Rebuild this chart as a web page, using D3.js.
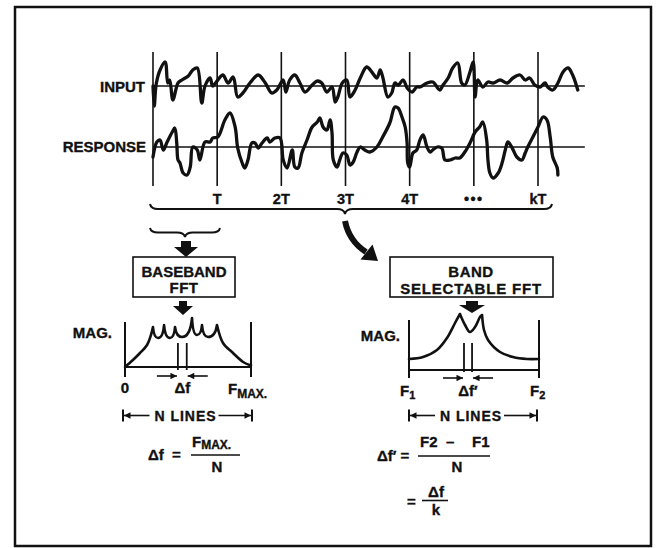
<!DOCTYPE html>
<html>
<head>
<meta charset="utf-8">
<script src="https://cdn.jsdelivr.net/npm/d3@7"></script>
<style>
  html, body { margin: 0; padding: 0; background: #fff; }
  svg { display: block; }
  text { font-family: "Liberation Sans", Arial, Helvetica, sans-serif; font-weight: bold;
         fill: #111; stroke: #111; stroke-width: 0.35px; }
</style>
</head>
<body>
<svg id="fig" width="657" height="548"></svg>
<script>
// Time is measured in hundredths of one record length T.
const periodIndex = [1, 2, 3, 4, 5, 6];
const periodLabels = ["T", "2T", "3T", "4T", "\u2022\u2022\u2022", "kT"];

// Excitation signal [time, amplitude]
const inputSignal = [
  [0,0],[2,-8],[5,0.8],[11,6.4],[19,9.6],[23,1.2],[26,2.4],[31,-5.6],[39,1.2],[45,2.4],
  [55,4],[62,6.4],[69,7.2],[76,-6.8],[81,0],[89,3.2],[93,0],[101,2.4],[109,4.4],[117,1.2],
  [125,3.6],[132,-4.4],[140,-2.8],[151,1.2],[164,4.4],[175,1.2],[185,-2.8],[193,-1.6],[203,2.4],
  [207,-2.4],[213,2.4],[221,4.4],[229,1.2],[237,-2.4],[248,0.4],[256,2],[263,1.2],[271,-2.4],
  [279,-0.4],[284,-6.4],[288,-4.4],[295,1.2],[302,2.4],[307,-4.4],[315,-1.6],[323,3.2],[333,7.6],
  [341,5.6],[349,3.2],[354,6.4],[358,3.6],[366,-4.4],[372,-2.8],[377,1.2],[382,0.4],[390,2.4],
  [396,-0.8],[404,-2.4],[411,-0.4],[416,-0.4],[427,1.2],[436,1.6],[447,-1.6],[452,0.4],[460,3.2],
  [467,7.2],[475,9.2],[481,1.2],[486,0.4],[494,5.6],[499,9.6],[502,-4.4],[506,2.4],[514,-0.4],
  [522,1.6],[530,1.2],[541,2.4],[552,1.2],[561,3.2],[572,4.4],[580,2.4],[587,3.2],[595,0.4],
  [603,-0.4],[611,1.2],[615,-0.4],[623,-1.6],[631,1.2],[639,5.6],[647,7.2],[654,4.4],[662,-1.6]
];

// Structure response [time, amplitude]
const responseSignal = [
  [0,-4],[6,2],[11,2.8],[16,-1.2],[22,2],[30,6],[34,7.6],[37,1.6],[39,-5.2],[42,-6.4],
  [47,-10.4],[53,-11.2],[58,-8],[62,0],[69,-1.2],[73,-5.2],[81,2],[89,2],[93,3.6],[101,4],
  [112,10.8],[120,13.6],[128,8],[132,-0.4],[139,-6.4],[143,-8.4],[148,-5.2],[154,1.6],[159,1.6],
  [164,-0.4],[170,1.6],[178,3.6],[182,2],[190,3.6],[198,3.6],[203,-5.2],[209,-8.4],[217,-1.2],
  [221,-8],[226,-8.4],[232,-2.4],[240,2.8],[248,8],[256,10],[260,11.6],[265,8],[271,6.8],
  [276,10.8],[279,5.6],[281,-5.2],[287,-8],[291,-5.2],[296,-2.4],[302,-3.2],[307,-7.2],[312,-6],
  [318,-2],[323,0],[330,-1.2],[338,-2],[349,0],[358,4],[369,9.6],[377,16],[382,15.6],[388,12],
  [393,8],[396,1.6],[397,-6.4],[400,-8],[405,-2.4],[411,-1.2],[416,2.8],[421,4.8],[427,0],
  [432,-2],[436,-1.2],[443,0],[450,-0.4],[455,-5.2],[463,-5.2],[471,-4.4],[478,-4.4],[486,-2],
  [494,1.6],[502,6],[509,8],[514,10],[520,2.8],[522,-5.2],[525,-10.4],[530,-12.4],[538,-10.4],
  [544,-6.4],[549,-1.2],[553,2],[559,0],[567,-4],[575,-5.2],[580,-2.4],[584,0],[592,4],
  [600,8],[608,12],[614,10.8],[619,4],[623,-4],[630,-8.4],[631,-11.2]
];

// Baseband spectrum, frequency as % of FMAX [freq, magnitude]
const basebandSpectrum = [
  [0,0],[6.3,1.4],[11.9,2.8],[17.5,4.4],[20.6,6.4],[22.2,8.0],[26.2,5.8],[31,8.4],[35.7,5.8],
  [39.7,8.0],[45.2,6.0],[53.2,9.8],[57.1,6.4],[61.1,8.4],[65.9,6.0],[73,8.4],[77.8,4.8],
  [85.7,2.8],[93.7,1.0],[100,0.3]
];
// Zoomed spectrum, frequency as % of span F1..F2 [freq, magnitude]
const zoomSpectrum = [
  [0,2.2],[10.8,2.6],[21.5,4.0],[29.2,6.4],[35.4,9.4],[39.2,11.2],[43.1,9.0],[46.9,7.6],
  [50.8,8.6],[54.6,10.6],[56.2,11.0],[57.7,8.0],[60.8,6.0],[70,3.6],[80,2.6],[90.8,2.2],[100,2.2]
];
// Adjacent analysis lines, bracketing the resolution
const basebandLines = [42, 49];
const zoomLines = [42.3, 48.5];

const svg = d3.select("#fig");
const ink = "#111";

// outer frame
svg.append("rect").attr("x", 15).attr("y", 7).attr("width", 636).attr("height", 539)
  .attr("fill", "none").attr("stroke", ink).attr("stroke-width", 2.5);

// arrowhead marker for thin dimension arrows
const defs = svg.append("defs");
defs.append("marker").attr("id", "head").attr("viewBox", "0 0 10 10")
  .attr("refX", 10).attr("refY", 5).attr("markerWidth", 10).attr("markerHeight", 6.5)
  .attr("markerUnits", "userSpaceOnUse").attr("orient", "auto")
  .append("path").attr("d", "M0,0 L10,5 L0,10 Z").attr("fill", ink);

// ---------- time records ----------
const xT = d3.scaleLinear().domain([0, 600]).range([153, 538]);
const yIn = d3.scaleLinear().domain([-10, 10]).range([111, 61]);
const yResp = d3.scaleLinear().domain([-10, 10]).range([172, 122]);
const tEnd = 673;

const grid = svg.append("g").attr("stroke", ink).attr("stroke-width", 1.6);
grid.selectAll("line.v").data([0].concat(periodIndex)).join("line")
  .attr("x1", d => xT(d * 100)).attr("x2", d => xT(d * 100))
  .attr("y1", 52).attr("y2", 186);
grid.append("line").attr("x1", xT(0)).attr("x2", xT(tEnd)).attr("y1", yIn(0)).attr("y2", yIn(0));
grid.append("line").attr("x1", xT(0)).attr("x2", xT(tEnd)).attr("y1", yResp(0)).attr("y2", yResp(0));

const lineIn = d3.line().x(d => xT(d[0])).y(d => yIn(d[1])).curve(d3.curveCatmullRom.alpha(0.5));
const lineResp = d3.line().x(d => xT(d[0])).y(d => yResp(d[1])).curve(d3.curveCatmullRom.alpha(0.5));
svg.append("path").attr("d", lineIn(inputSignal)).attr("fill", "none").attr("stroke", ink)
  .attr("stroke-width", 3.3).attr("stroke-linejoin", "round").attr("stroke-linecap", "round");
svg.append("path").attr("d", lineResp(responseSignal)).attr("fill", "none").attr("stroke", ink)
  .attr("stroke-width", 3.3).attr("stroke-linejoin", "round").attr("stroke-linecap", "round");

svg.append("text").attr("x", 145).attr("y", 92).attr("text-anchor", "end")
  .style("font-size", "15px").text("INPUT");
svg.append("text").attr("x", 146).attr("y", 152).attr("text-anchor", "end")
  .style("font-size", "15px").text("RESPONSE");

svg.append("g").selectAll("text").data(periodIndex).join("text")
  .attr("x", d => xT(d * 100)).attr("y", 204).attr("text-anchor", "middle")
  .style("font-size", "14.5px")
  .style("letter-spacing", (d, i) => i === 4 ? "1.5px" : "0px")
  .text((d, i) => periodLabels[i]);

// braces grouping the records
function underBrace(x1, x2, xm, y, h) {
  const q = h / 2;
  return `M${x1},${y} Q${x1 + 1},${y + q} ${x1 + 8},${y + q} L${xm - 8},${y + q} ` +
    `Q${xm - 1},${y + q} ${xm},${y + h} Q${xm + 1},${y + q} ${xm + 8},${y + q} ` +
    `L${x2 - 8},${y + q} Q${x2 - 1},${y + q} ${x2},${y}`;
}
svg.append("path").attr("d", underBrace(150, 552, 345, 204, 10))
  .attr("fill", "none").attr("stroke", ink).attr("stroke-width", 2);
svg.append("path").attr("d", underBrace(150, 220, 185, 228, 9))
  .attr("fill", "none").attr("stroke", ink).attr("stroke-width", 2);

// block arrows
function blockArrow(cx, y0, yNeck, yTip, shaftHalf, headHalf) {
  return `M${cx - shaftHalf},${y0} L${cx + shaftHalf},${y0} L${cx + shaftHalf},${yNeck} ` +
    `L${cx + headHalf},${yNeck} L${cx},${yTip} L${cx - headHalf},${yNeck} L${cx - shaftHalf},${yNeck} Z`;
}
svg.append("path").attr("d", blockArrow(186, 241, 247, 257, 5, 12)).attr("fill", ink);
svg.append("path").attr("d", blockArrow(183, 301, 306, 315, 4, 10)).attr("fill", ink);
svg.append("path").attr("d", blockArrow(472, 301, 305, 313, 6, 13)).attr("fill", ink);

// curved arrow towards the band selectable FFT
svg.append("path").attr("d", "M345,221 Q349,241 366,252")
  .attr("fill", "none").attr("stroke", ink).attr("stroke-width", 6).attr("stroke-linecap", "butt");
svg.append("path").attr("d", "M378,261 L360.5,259.5 L372.5,244.5 Z").attr("fill", ink);

// processing boxes
function box(x, y, w, h, lines, cx) {
  svg.append("rect").attr("x", x).attr("y", y).attr("width", w).attr("height", h)
    .attr("fill", "none").attr("stroke", ink).attr("stroke-width", 1.6);
  lines.forEach(l => svg.append("text").attr("x", cx).attr("y", l.y)
    .attr("text-anchor", "middle").style("font-size", "15px")
    .style("letter-spacing", l.ls || "0px").text(l.t));
}
box(133, 257, 102, 40, [{t: "BASEBAND", y: 277}, {t: "FFT", y: 293, ls: "0.5px"}], 184);
box(390, 257, 163, 40, [{t: "BAND", y: 277, ls: "0.5px"}, {t: "SELECTABLE FFT", y: 294, ls: "0.8px"}], 471);

// ---------- spectra ----------
// a peak-dip-peak run is drawn as a rounded trough between two sharp tips
function troughPath(p1, d, p2) {
  const dx1 = d[0] - p1[0], dy1 = d[1] - p1[1];
  const dx2 = p2[0] - d[0], dy2 = d[1] - p2[1];
  return `M${p1[0]},${p1[1]} C${p1[0] + 0.12 * dx1},${p1[1] + 0.65 * dy1} ${d[0] - 0.55 * dx1},${d[1]} ${d[0]},${d[1]} ` +
    `C${d[0] + 0.55 * dx2},${d[1]} ${p2[0] - 0.12 * dx2},${p2[1] + 0.65 * dy2} ${p2[0]},${p2[1]}`;
}

function spectrumPanel(data, lines, xs, ys, vTop, vBot, markerTop, markerBot) {
  const g = svg.append("g");
  g.selectAll("line.edge").data([0, 100]).join("line")
    .attr("x1", d => xs(d)).attr("x2", d => xs(d)).attr("y1", vTop).attr("y2", vBot)
    .attr("stroke", ink).attr("stroke-width", 2);
  g.append("line").attr("x1", xs(0)).attr("x2", xs(100)).attr("y1", ys(0)).attr("y2", ys(0))
    .attr("stroke", ink).attr("stroke-width", 2);
  // split at the local maxima so each spectral line ends in a sharp tip
  const segs = [];
  let cur = [data[0]];
  for (let i = 1; i < data.length; i++) {
    cur.push(data[i]);
    const isPeak = i < data.length - 1 && data[i][1] > data[i - 1][1] && data[i][1] > data[i + 1][1];
    if (isPeak) { segs.push(cur); cur = [data[i]]; }
  }
  segs.push(cur);
  const ln = d3.line().x(d => xs(d[0])).y(d => ys(d[1])).curve(d3.curveCatmullRom.alpha(0.5));
  const px = s => s.map(d => [xs(d[0]), ys(d[1])]);
  const d = segs.map(s => s.length === 3 ? troughPath(...px(s)) : ln(s)).join("");
  g.append("path").attr("d", d)
    .attr("fill", "none").attr("stroke", ink).attr("stroke-width", 2.6)
    .attr("stroke-linejoin", "miter").attr("stroke-linecap", "round");
  g.selectAll("line.res").data(lines).join("line")
    .attr("x1", v => xs(v)).attr("x2", v => xs(v)).attr("y1", markerTop).attr("y2", markerBot)
    .attr("stroke", ink).attr("stroke-width", 1.8);
  const ay = markerBot + 6;
  g.append("line").attr("x1", xs(lines[0]) - 21).attr("x2", xs(lines[0]) - 1)
    .attr("y1", ay).attr("y2", ay).attr("stroke", ink).attr("stroke-width", 1.6)
    .attr("marker-end", "url(#head)");
  g.append("line").attr("x1", xs(lines[1]) + 21).attr("x2", xs(lines[1]) + 1)
    .attr("y1", ay).attr("y2", ay).attr("stroke", ink).attr("stroke-width", 1.6)
    .attr("marker-end", "url(#head)");
  return g;
}

const xB = d3.scaleLinear().domain([0, 100]).range([125, 251]);
const yB = d3.scaleLinear().domain([0, 10]).range([367, 317]);
const xZ = d3.scaleLinear().domain([0, 100]).range([409, 539]);
const yZ = d3.scaleLinear().domain([0, 10]).range([370, 320]);

spectrumPanel(basebandSpectrum, basebandLines, xB, yB, 322, 377, 343, 370);
spectrumPanel(zoomSpectrum, zoomLines, xZ, yZ, 320, 378, 343, 372);

svg.append("text").attr("x", 112).attr("y", 338).attr("text-anchor", "end")
  .style("font-size", "15px").text("MAG.");
svg.append("text").attr("x", 400).attr("y", 341).attr("text-anchor", "end")
  .style("font-size", "15px").text("MAG.");

// frequency labels
svg.append("text").attr("x", xB(0)).attr("y", 393).attr("text-anchor", "middle")
  .style("font-size", "15px").text("0");
svg.append("text").attr("x", xB(45.5)).attr("y", 393).attr("text-anchor", "middle")
  .style("font-size", "15px").text("\u0394f");
const fmax = svg.append("text").attr("x", xB(100) - 23).attr("y", 394).style("font-size", "15px");
fmax.append("tspan").text("F");
fmax.append("tspan").attr("dy", 4).style("font-size", "12px").text("MAX.");

const f1 = svg.append("text").attr("x", xZ(0) - 9).attr("y", 396).style("font-size", "15px");
f1.append("tspan").text("F");
f1.append("tspan").attr("dy", 3).style("font-size", "11px").text("1");
svg.append("text").attr("x", xZ(45.4)).attr("y", 396).attr("text-anchor", "middle")
  .style("font-size", "15px").text("\u0394f\u2032");
const f2 = svg.append("text").attr("x", xZ(100) - 9).attr("y", 396).style("font-size", "15px");
f2.append("tspan").text("F");
f2.append("tspan").attr("dy", 3).style("font-size", "11px").text("2");

// N LINES spans
function nLines(x1, x2, y) {
  const g = svg.append("g").attr("stroke", ink).attr("stroke-width", 1.6);
  g.append("line").attr("x1", x1).attr("x2", x1).attr("y1", y - 6).attr("y2", y + 6).attr("stroke-width", 2);
  g.append("line").attr("x1", x2).attr("x2", x2).attr("y1", y - 6).attr("y2", y + 6).attr("stroke-width", 2);
  const cx = (x1 + x2) / 2;
  g.append("line").attr("x1", cx - 38).attr("x2", x1 + 1).attr("y1", y).attr("y2", y)
    .attr("marker-end", "url(#head)");
  g.append("line").attr("x1", cx + 31).attr("x2", x2 - 1).attr("y1", y).attr("y2", y)
    .attr("marker-end", "url(#head)");
  svg.append("text").attr("x", cx - 2).attr("y", y + 5).attr("text-anchor", "middle")
    .style("font-size", "14px").style("letter-spacing", "1px").text("N LINES");
}
nLines(xB(0) - 2, xB(100) + 1, 415.5);
nLines(xZ(0), xZ(100) - 2, 415.5);

// resolution formulas
function fracLine(x1, x2, y) {
  svg.append("line").attr("x1", x1).attr("x2", x2).attr("y1", y).attr("y2", y)
    .attr("stroke", ink).attr("stroke-width", 1.6);
}
svg.append("text").attr("x", 148).attr("y", 460).style("font-size", "15px")
  .style("white-space", "pre").text("\u0394f  =");
const num1 = svg.append("text").attr("x", 192).attr("y", 447).style("font-size", "15px");
num1.append("tspan").text("F");
num1.append("tspan").attr("dy", 2).style("font-size", "12px").text("MAX.");
fracLine(191, 240, 455);
svg.append("text").attr("x", 217).attr("y", 472).attr("text-anchor", "middle")
  .style("font-size", "15px").text("N");

svg.append("text").attr("x", 377).attr("y", 461).style("font-size", "15px")
  .style("white-space", "pre").text("\u0394f\u2032 =");
const num2 = svg.append("text").attr("y", 447).style("font-size", "15px");
num2.append("tspan").attr("x", 420).text("F2");
num2.append("tspan").attr("x", 446).text("\u2013");
num2.append("tspan").attr("x", 472).text("F1");
fracLine(418, 490, 456);
svg.append("text").attr("x", 457).attr("y", 472).attr("text-anchor", "middle")
  .style("font-size", "15px").text("N");

svg.append("text").attr("x", 407).attr("y", 507).style("font-size", "15px").text("=");
svg.append("text").attr("x", 436).attr("y", 497).attr("text-anchor", "middle")
  .style("font-size", "15px").text("\u0394f");
fracLine(422, 448, 500.5);
svg.append("text").attr("x", 436).attr("y", 515).attr("text-anchor", "middle")
  .style("font-size", "15px").text("k");
</script>
</body>
</html>
